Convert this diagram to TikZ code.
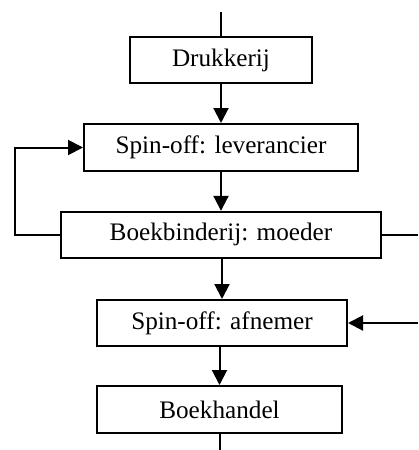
\documentclass[tikz,border=0pt]{standalone}
\usepackage{fontspec}
\setmainfont{Liberation Serif}
\usetikzlibrary{arrows.meta}
\begin{document}
\begin{tikzpicture}[x=1pt,y=-1pt,
  box/.style={draw, line width=2pt, inner sep=0pt, minimum height=46pt,
    font=\fontsize{25.2}{29}\selectfont},
  conn/.style={line width=2pt},
  arr/.style={conn, -{Triangle[length=15pt,width=15pt]}}]
\useasboundingbox (0,0) rectangle (418,450);
\node[box, minimum width=182pt] (d) at (221,60) {Drukkerij};
\node[box, minimum width=274pt, minimum height=47pt] (s) at (221,147.5) {Spin-off: leverancier};
\node[box, minimum width=320pt] (b) at (221,234.8) {Boekbinderij: moeder};
\node[box, minimum width=250pt] (a) at (222,323) {Spin-off: afnemer};
\node[box, minimum width=245pt, minimum height=47pt] (h) at (219.5,409.5) {Boekhandel};
\coordinate (top) at (221,12);
\coordinate (bot) at (219.5,450);
\coordinate (rb) at (418,234.8);
\coordinate (ra) at (418,323);
\draw[conn] (top) -- (d.north);
\draw[arr] (d.south) -- (s.north);
\draw[arr] (s.south) -- (b.north);
\draw[arr] (b.south -| a.north) -- (a.north);
\draw[arr] (a.south -| h.north) -- (h.north);
\draw[conn] (h.south) -- (bot);
\draw[arr] (b.west) -- ++(-45,0) |- (s.west);
\draw[conn] (b.east) -- (rb);
\draw[arr] (ra) -- (a.east);
\end{tikzpicture}
\end{document}
